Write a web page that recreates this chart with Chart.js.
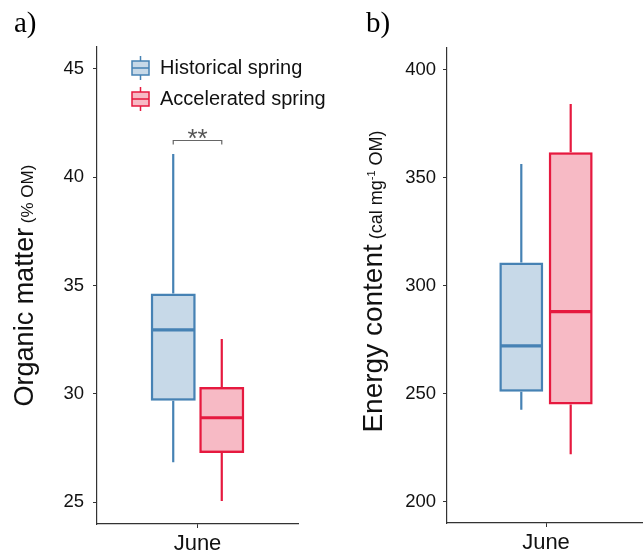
<!DOCTYPE html>
<html>
<head>
<meta charset="utf-8">
<script src="https://cdn.jsdelivr.net/npm/chart.js@4/dist/chart.umd.min.js"></script>
<style>
  html, body { margin:0; padding:0; background:#fff; overflow:hidden; width:643px; height:555px; }
  #pa { position:absolute; left:0; top:0; }
  #pb { position:absolute; left:320px; top:0; }
</style>
</head>
<body>
<canvas id="pa" width="340" height="555"></canvas>
<canvas id="pb" width="330" height="555"></canvas>
<script>
// ---- data ----
const CATEGORIES = ['June'];
const SERIES = ['Historical spring', 'Accelerated spring'];
// box statistics: [min, q1, median, q3, max]
const OM_HISTORICAL = [26.85, 29.68, 32.95, 34.63, 41.06];
const OM_ACCELERATED = [25.06, 27.27, 28.90, 30.32, 32.53];
const ENERGY_HISTORICAL = [242.5, 250.8, 272.0, 310.7, 356.3];
const ENERGY_ACCELERATED = [221.9, 244.9, 287.9, 361.7, 384.1];
const OM_TICKS = [25, 30, 35, 40, 45];
const ENERGY_TICKS = [200, 250, 300, 350, 400];
const SIGNIF_LABEL = '**';
const SIGNIF_Y = 41.7;

// ---- styles ----
const STROKES = ['#4682B4', '#E6193F'];
const FILLS = ['rgba(70,130,180,0.3)', 'rgba(230,25,63,0.3)'];
const SANS = "'Liberation Sans', Arial, Helvetica, sans-serif";
const SERIF = "'Liberation Serif', 'Times New Roman', serif";

function makeDatasets(statsList, barPct, catPct) {
  return statsList.map((s, i) => ({
    label: SERIES[i],
    data: [[s[1], s[3]]],
    stats: [s],
    backgroundColor: FILLS[i],
    borderColor: STROKES[i],
    borderWidth: 2.5,
    borderSkipped: false,
    barPercentage: barPct,
    categoryPercentage: catPct
  }));
}

const boxPlugin = {
  id: 'boxWhiskers',
  afterDatasetsDraw(chart) {
    const ctx = chart.ctx, ys = chart.scales.y;
    chart.data.datasets.forEach((ds, i) => {
      const meta = chart.getDatasetMeta(i);
      meta.data.forEach((bar, j) => {
        const s = ds.stats[j];
        const l = bar.x - bar.width / 2, r = bar.x + bar.width / 2;
        ctx.save();
        ctx.strokeStyle = ds.borderColor;
        ctx.lineWidth = 2.2;
        ctx.lineCap = 'butt';
        ctx.beginPath();
        ctx.moveTo(bar.x, ys.getPixelForValue(s[3]));
        ctx.lineTo(bar.x, ys.getPixelForValue(s[4]));
        ctx.moveTo(bar.x, ys.getPixelForValue(s[1]));
        ctx.lineTo(bar.x, ys.getPixelForValue(s[0]));
        ctx.stroke();
        ctx.lineWidth = 3.2;
        ctx.beginPath();
        const my = ys.getPixelForValue(s[2]);
        ctx.moveTo(l + 1, my);
        ctx.lineTo(r - 1, my);
        ctx.stroke();
        ctx.restore();
      });
    });
  }
};

const decorPlugin = {
  id: 'decor',
  afterDraw(chart) {
    const o = chart.options.plugins.decor;
    const ctx = chart.ctx, ca = chart.chartArea;
    ctx.save();
    // panel letter
    ctx.fillStyle = '#000';
    ctx.font = '29px ' + SERIF;
    ctx.textBaseline = 'alphabetic';
    ctx.textAlign = 'left';
    ctx.fillText(o.letter, o.letterX, 32);
    // y title (two sizes)
    ctx.font = o.titleSize + 'px ' + SANS;
    const w1 = ctx.measureText(o.title).width;
    let w2 = 0;
    o.sub.forEach(p => { ctx.font = p.size + 'px ' + SANS; w2 += ctx.measureText(p.t).width; });
    const total = w1 + w2;
    const cy = (ca.top + ca.bottom) / 2 + (o.shift || 0);
    ctx.translate(o.titleX, cy);
    ctx.rotate(-Math.PI / 2);
    ctx.fillStyle = '#111';
    let x = -total / 2;
    ctx.font = o.titleSize + 'px ' + SANS;
    ctx.fillText(o.title, x, 0);
    x += w1;
    o.sub.forEach(p => {
      ctx.font = p.size + 'px ' + SANS;
      ctx.fillText(p.t, x, -(p.rise || 0));
      x += ctx.measureText(p.t).width;
    });
    ctx.restore();

    if (o.legend) {
      ctx.save();
      SERIES.forEach((name, i) => {
        const cyL = 68 + i * 31;
        ctx.fillStyle = FILLS[i];
        ctx.fillRect(132, cyL - 7, 17, 14);
        ctx.strokeStyle = STROKES[i];
        ctx.lineWidth = 1.5;
        ctx.strokeRect(132, cyL - 7, 17, 14);
        ctx.beginPath();
        ctx.moveTo(132, cyL); ctx.lineTo(149, cyL);
        ctx.moveTo(140.5, cyL - 12); ctx.lineTo(140.5, cyL - 7);
        ctx.moveTo(140.5, cyL + 7); ctx.lineTo(140.5, cyL + 12);
        ctx.stroke();
        ctx.fillStyle = '#111';
        ctx.font = '20px ' + SANS;
        ctx.textBaseline = 'middle';
        ctx.textAlign = 'left';
        ctx.fillText(name, 160, cyL);
      });
      ctx.restore();
    }
    if (o.signif) {
      const m0 = chart.getDatasetMeta(0).data[0], m1 = chart.getDatasetMeta(1).data[0];
      const y = Math.round(chart.scales.y.getPixelForValue(SIGNIF_Y)) + 0.5;
      ctx.save();
      ctx.strokeStyle = '#666';
      ctx.lineWidth = 1.2;
      ctx.beginPath();
      ctx.moveTo(m0.x, y + 4); ctx.lineTo(m0.x, y); ctx.lineTo(m1.x, y); ctx.lineTo(m1.x, y + 4);
      ctx.stroke();
      ctx.fillStyle = '#555';
      ctx.font = '26px ' + SANS;
      ctx.textAlign = 'center';
      ctx.textBaseline = 'alphabetic';
      ctx.fillText(SIGNIF_LABEL, (m0.x + m1.x) / 2, y + 6);
      ctx.restore();
    }
  }
};

function makeChart(id, cfg) {
  return new Chart(document.getElementById(id), {
    type: 'bar',
    data: { labels: CATEGORIES, datasets: cfg.datasets },
    options: {
      responsive: false,
      animation: false,
      layout: { padding: { left: 0, top: cfg.top, right: cfg.right, bottom: 0 } },
      plugins: {
        legend: { display: false },
        tooltip: { enabled: false },
        decor: cfg.decor
      },
      scales: {
        x: {
          type: 'category',
          offset: true,
          grid: { display: true, offset: false, drawOnChartArea: false, drawTicks: true, tickLength: 4, color: '#333' },
          border: { display: true, color: '#333', width: 1.2 },
          ticks: { font: { size: 22, family: SANS }, color: '#111', padding: 3 },
          afterFit(s) { s.height = cfg.xHeight; }
        },
        y: {
          min: cfg.min, max: cfg.max,
          grid: { display: true, drawOnChartArea: false, drawTicks: true, tickLength: 4, color: '#333' },
          border: { display: true, color: '#333', width: 1.2 },
          ticks: { font: { size: 18.5, family: SANS }, color: '#111', padding: cfg.tickPad },
          afterBuildTicks(s) { s.ticks = cfg.ticks.map(v => ({ value: v })); },
          afterFit(s) { s.width = cfg.yWidth; }
        }
      }
    },
    plugins: [boxPlugin, decorPlugin]
  });
}

makeChart('pa', {
  datasets: makeDatasets([OM_HISTORICAL, OM_ACCELERATED], 0.928, 0.483),
  top: 47, right: 42, xHeight: 31, yWidth: 97, min: 24, max: 46, ticks: OM_TICKS, tickPad: 9,
  decor: { letter: 'a)', letterX: 14, title: 'Organic matter', titleSize: 27, sub: [{ t: ' (% OM)', size: 17 }], titleX: 33, legend: true, signif: true }
});

makeChart('pb', {
  datasets: makeDatasets([ENERGY_HISTORICAL, ENERGY_ACCELERATED], 0.89, 0.499),
  top: 48, right: 5, xHeight: 32, yWidth: 127, min: 190, max: 410, ticks: ENERGY_TICKS, tickPad: 7,
  decor: { letter: 'b)', letterX: 46, title: 'Energy content', titleSize: 28, shift: -4,
    sub: [{ t: ' (cal mg', size: 18 }, { t: '-1', size: 11, rise: 7 }, { t: ' OM)', size: 18 }], titleX: 62, legend: false, signif: false }
});
</script>
</body>
</html>
